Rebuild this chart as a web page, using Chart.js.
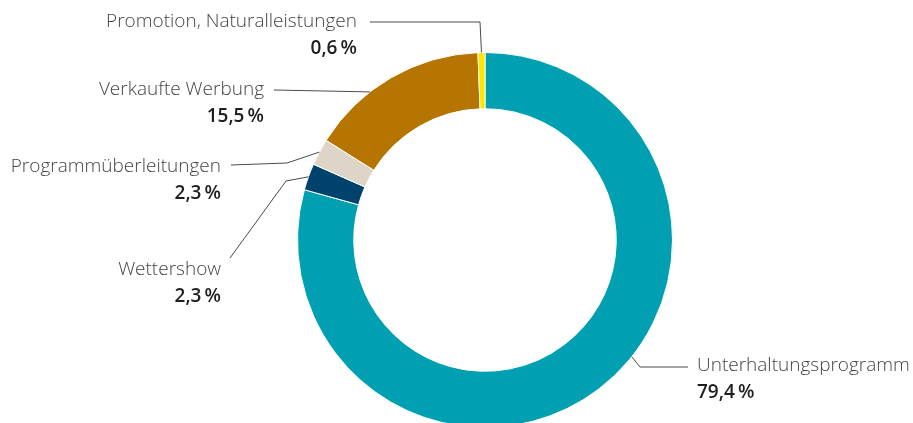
<!DOCTYPE html>
<html>
<head>
<meta charset="utf-8">
<script src="https://cdn.jsdelivr.net/npm/chart.js@4"></script>
<style>
  html, body { margin: 0; padding: 0; background: #fff; }
  #wrap { width: 913px; height: 423px; overflow: hidden; position: relative; }
</style>
</head>
<body>
<div id="wrap"><canvas id="chart" width="913" height="440"></canvas></div>
<script>
const categories = ["Unterhaltungsprogramm", "Wettershow", "Programmüberleitungen", "Verkaufte Werbung", "Promotion, Naturalleistungen"];
const shares = [79.4, 2.3, 2.3, 15.5, 0.6];
const colors = ["#009fb1", "#00426e", "#ddd6c8", "#b57500", "#ffe500"];

// where each label sits and how its leader line bends (pixels)
const labelLayout = [
  { align: "left",  x: 697, y: 366, at: 0.45, bends: [[640, 367], [688, 367]] },
  { align: "right", x: 221, y: 270, at: 0.5,  bends: [[286, 181], [230, 258]] },
  { align: "right", x: 221, y: 167, at: 0.5,  bends: [[287, 163], [231, 165]] },
  { align: "right", x: 264, y: 90,  at: 0.36, bends: [[274, 90]] },
  { align: "right", x: 357, y: 22,  at: 0.5,  bends: [[480, 22], [370, 22]] }
];

function fmt(v) {
  return v.toFixed(1).replace(".", ",") + "\u2009%";
}

const labelPlugin = {
  id: "labels",
  afterDraw(chart) {
    const ctx = chart.ctx;
    const arcs = chart.getDatasetMeta(0).data;
    ctx.save();
    arcs.forEach((arc, i) => {
      const lay = labelLayout[i];
      const p = arc.getProps(["x", "y", "startAngle", "endAngle", "outerRadius"], true);
      const a = p.startAngle + (p.endAngle - p.startAngle) * lay.at;
      const sx = p.x + Math.cos(a) * p.outerRadius;
      const sy = p.y + Math.sin(a) * p.outerRadius;

      ctx.strokeStyle = "#4a4a4a";
      ctx.lineWidth = 1;
      ctx.beginPath();
      ctx.moveTo(sx, sy);
      lay.bends.forEach(b => ctx.lineTo(b[0], b[1]));
      ctx.stroke();

      ctx.textAlign = lay.align;
      ctx.textBaseline = "middle";
      ctx.fillStyle = "#444444";
      ctx.font = "300 19px 'Open Sans'";
      ctx.fillText(categories[i], lay.x, lay.y);
      ctx.fillStyle = "#1e1e1e";
      ctx.font = "600 19px 'Open Sans'";
      ctx.fillText(fmt(shares[i]), lay.x, lay.y + 27);
    });
    ctx.restore();
  }
};

new Chart(document.getElementById("chart"), {
  type: "doughnut",
  data: {
    labels: categories,
    datasets: [{
      data: shares,
      backgroundColor: colors,
      borderColor: "#ffffff",
      borderWidth: 1
    }]
  },
  options: {
    responsive: false,
    animation: false,
    cutout: "70%",
    layout: { padding: { left: 297, right: 240, top: 52, bottom: 12 } },
    plugins: {
      legend: { display: false },
      tooltip: { enabled: false }
    }
  },
  plugins: [labelPlugin]
});
</script>
</body>
</html>
